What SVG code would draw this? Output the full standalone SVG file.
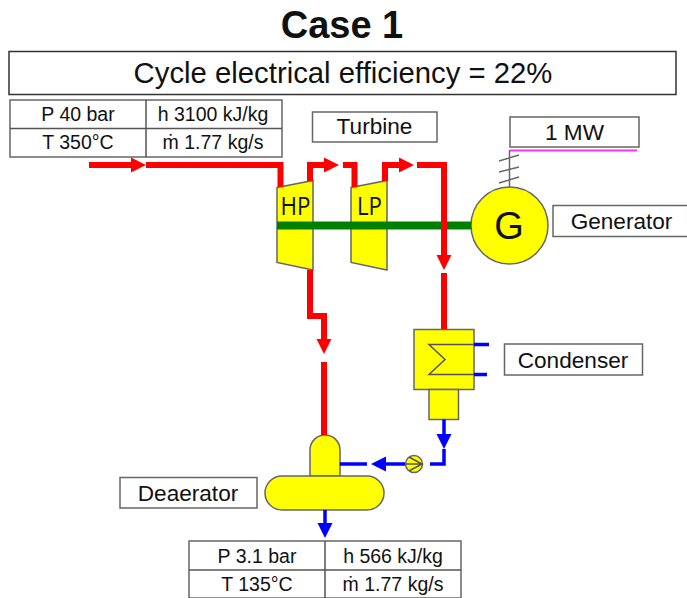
<svg xmlns="http://www.w3.org/2000/svg" width="687" height="598" viewBox="0 0 687 598">
<defs>
<marker id="ar" markerUnits="userSpaceOnUse" markerWidth="16" markerHeight="16" refX="0" refY="8" orient="auto"><path d="M0,0.5 L15,8 L0,15.500z" fill="#ff0000"/></marker>
<marker id="ab" markerUnits="userSpaceOnUse" markerWidth="16" markerHeight="16" refX="0" refY="8" orient="auto"><path d="M0,0.500 L15,8 L0,15.500z" fill="#0000ff"/></marker>
</defs>
<style>
text{font-family:"Liberation Sans",Arial,sans-serif;fill:#111;text-anchor:middle}
.lb{font-size:22.600px}
.tb{font-size:19.500px}
.box{fill:#fff;stroke:#666;stroke-width:1.500}
.eq{fill:#ffff00;stroke:#666;stroke-width:1.500}
.r{fill:none;stroke:#ff0000;stroke-width:6}
.b{fill:none;stroke:#0000ff;stroke-width:3.500}
.tl{fill:none;stroke:#555;stroke-width:1.500}
.hp{font-family:"Open Sans",sans-serif;font-size:25px}
</style>
<g id="title"><text x="342" y="38" font-size="38" font-weight="bold" fill="#000">Case 1</text></g>
<g id="efficiency"><rect x="9" y="51.500" width="667" height="43" fill="#fff" stroke="#333" stroke-width="1.500"/><text x="343" y="83" font-size="29.300">Cycle electrical efficiency = 22%</text></g>
<g id="table-in">
<rect class="box" x="10" y="100" width="272" height="57"/>
<path class="tl" d="M10,128.500H282M146,100V157"/>
<text class="tb" x="78" y="121">P 40 bar</text><text class="tb" x="213" y="121">h 3100 kJ/kg</text>
<text class="tb" x="78" y="149">T 350°C</text><text class="tb" x="213" y="149">ṁ 1.77 kg/s</text>
</g>
<g id="turbine-label"><rect class="box" x="312.500" y="112" width="124.500" height="30"/><text class="lb" x="374.500" y="134">Turbine</text></g>
<g id="power-label"><rect class="box" x="510" y="117" width="129" height="30"/><text class="lb" x="574.500" y="140">1 MW</text></g>
<g id="generator-label"><rect class="box" x="553" y="205.500" width="136" height="31"/><text class="lb" x="621.500" y="228.500">Generator</text></g>
<g id="condenser-label"><rect class="box" x="504.500" y="344" width="138" height="31"/><text class="lb" x="573" y="367.500">Condenser</text></g>
<g id="deaerator-label"><rect class="box" x="120" y="477.500" width="137" height="30.500"/><text class="lb" x="188" y="500.500">Deaerator</text></g>
<g id="hp-turbine"><path class="eq" d="M277,187.500L313,180.500V270L277,262.500z"/><text class="hp" x="295.500" y="214.500" textLength="30" lengthAdjust="spacingAndGlyphs">HP</text></g>
<g id="lp-turbine"><path class="eq" d="M351,187.500L387,180.500V270L351,262.500z"/><text class="hp" x="369.500" y="214.500" textLength="25" lengthAdjust="spacingAndGlyphs">LP</text></g>
<g id="generator"><circle class="eq" cx="509.500" cy="225.500" r="38.500"/><text x="509" y="239" font-size="38">G</text></g>
<g id="condenser"><rect class="eq" x="414" y="329.500" width="60" height="60"/><rect class="eq" x="429" y="389.500" width="29.500" height="30"/><path class="tl" d="M474,344.500H429L445,359.500L429,374.500H474"/></g>
<g id="pump"><circle class="eq" cx="414" cy="464" r="8.500"/><path class="tl" d="M405.500,464H422.500M409,457L422,464L409,471"/></g>
<g id="deaerator"><path class="eq" d="M310,476V450A15,15 0 0 1 340,450V476z"/><rect class="eq" x="265" y="476" width="119" height="34" rx="17" ry="17"/></g>
<g id="table-out">
<rect class="box" x="189" y="541" width="272" height="57"/>
<path class="tl" d="M189,570H461M325,541V598"/>
<text class="tb" x="257" y="563">P 3.1 bar</text><text class="tb" x="393" y="563">h 566 kJ/kg</text>
<text class="tb" x="257" y="591">T 135°C</text><text class="tb" x="393" y="591">ṁ 1.77 kg/s</text>
</g>
<g id="connectors">
<path d="M277,225.500H471" fill="none" stroke="#008000" stroke-width="8"/>
<path class="r" d="M89,165H131" marker-end="url(#ar)"/>
<path class="r" d="M146,165H280.500V187"/>
<path class="r" d="M310,181V165H324" marker-end="url(#ar)"/>
<path class="r" d="M343,165H354.500V187"/>
<path class="r" d="M385,181V165H399" marker-end="url(#ar)"/>
<path class="r" d="M417,165H444V255" marker-end="url(#ar)"/>
<path class="r" d="M444,273V329"/>
<path class="r" d="M310,270V316H324V339" marker-end="url(#ar)"/>
<path class="r" d="M324,362V435"/>
<path class="b" d="M474,344.500H489M474,374.500H487"/>
<path class="b" d="M444,419.500V434" marker-end="url(#ab)"/>
<path class="b" d="M444,449V464H430"/>
<path class="b" d="M405,464H386" marker-end="url(#ab)"/>
<path class="b" d="M367,464H340"/>
<path class="b" d="M325,510V523" marker-end="url(#ab)"/>
<path d="M509.500,187V150" fill="none" stroke="#666" stroke-width="1.500"/>
<path d="M510,150.500H637" fill="none" stroke="#ff33ee" stroke-width="2"/>
<path d="M499,161L519,155M499,172L519,167M499,183L519,177" fill="none" stroke="#666" stroke-width="1.500"/>
</g>
</svg>
